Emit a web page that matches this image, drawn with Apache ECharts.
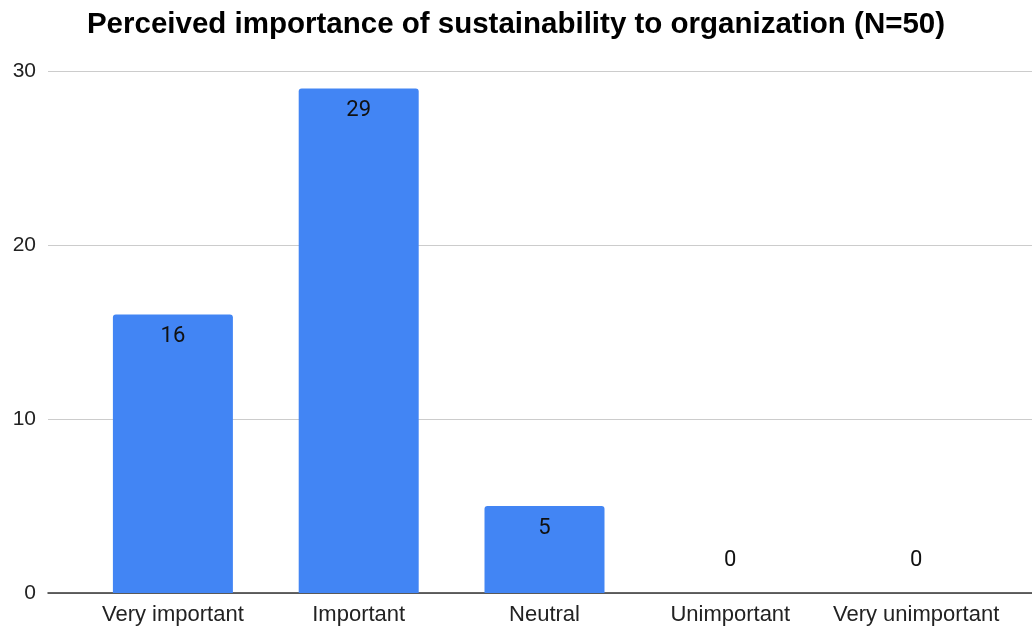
<!DOCTYPE html>
<html>
<head>
<meta charset="utf-8">
<script src="https://cdn.jsdelivr.net/npm/echarts@6/dist/echarts.min.js"></script>
<style>
  html, body { margin: 0; padding: 0; background: #ffffff; }
  #chart { width: 1032px; height: 630px; }
</style>
</head>
<body>
<div id="chart"></div>
<script>
// Survey responses: perceived importance of sustainability
const categories = ['Very important', 'Important', 'Neutral', 'Unimportant', 'Very unimportant'];
const responses = [16, 29, 5, 0, 0];
const yTicks = [0, 10, 20, 30];

const chart = echarts.init(document.getElementById('chart'));

const yMin = yTicks[0];
const yMax = yTicks[yTicks.length - 1];
const yStep = yTicks[1] - yTicks[0];

// Zero-height bars get their label above the baseline instead of inside
const barData = responses.map(v => v === 0
  ? { value: v, label: { position: 'top', distance: 22 } }
  : { value: v });

chart.setOption({
  animation: false,
  title: {
    text: 'Perceived importance of sustainability to organization (N=50)',
    left: 'center',
    top: 5,
    textStyle: {
      fontFamily: 'Liberation Sans, Arial, sans-serif',
      fontWeight: 'bold',
      fontSize: 29.5,
      color: '#000000'
    }
  },
  grid: [
    // Frame: value gridlines and baseline spanning the full width
    { left: 48, right: 0, top: 71, bottom: 37 },
    // Plot: category bands for the bars
    { left: 80, right: 23, top: 71, bottom: 37 }
  ],
  xAxis: [
    {
      gridIndex: 0, type: 'value', min: 0, max: 1,
      axisLine: { show: true, lineStyle: { color: '#333333', width: 1.5 } },
      axisTick: { show: false },
      axisLabel: { show: false },
      splitLine: { show: false }
    },
    {
      gridIndex: 1, type: 'category', data: categories,
      axisLine: { show: false },
      axisTick: { show: false },
      axisLabel: {
        interval: 0,
        margin: 11,
        fontFamily: 'Liberation Sans, Arial, sans-serif',
        fontSize: 22,
        color: '#222222'
      }
    }
  ],
  yAxis: [
    {
      gridIndex: 0, type: 'value', min: yMin, max: yMax, interval: yStep,
      axisLine: { show: false },
      axisTick: { show: false },
      axisLabel: {
        margin: 12,
        fontFamily: 'Liberation Sans, Arial, sans-serif',
        fontSize: 21,
        color: '#222222'
      },
      splitLine: { lineStyle: { color: '#cccccc', width: 1 } }
    },
    {
      gridIndex: 1, type: 'value', min: yMin, max: yMax, interval: yStep,
      show: false,
      splitLine: { show: false }
    }
  ],
  series: [{
    type: 'bar',
    xAxisIndex: 1,
    yAxisIndex: 1,
    data: barData,
    barWidth: 120,
    itemStyle: { color: '#4285F4', borderRadius: [3, 3, 0, 0] },
    label: {
      show: true,
      position: 'insideTop',
      distance: 11,
      fontFamily: 'Roboto, sans-serif',
      fontSize: 22,
      color: '#111111'
    }
  }]
});
</script>
</body>
</html>
